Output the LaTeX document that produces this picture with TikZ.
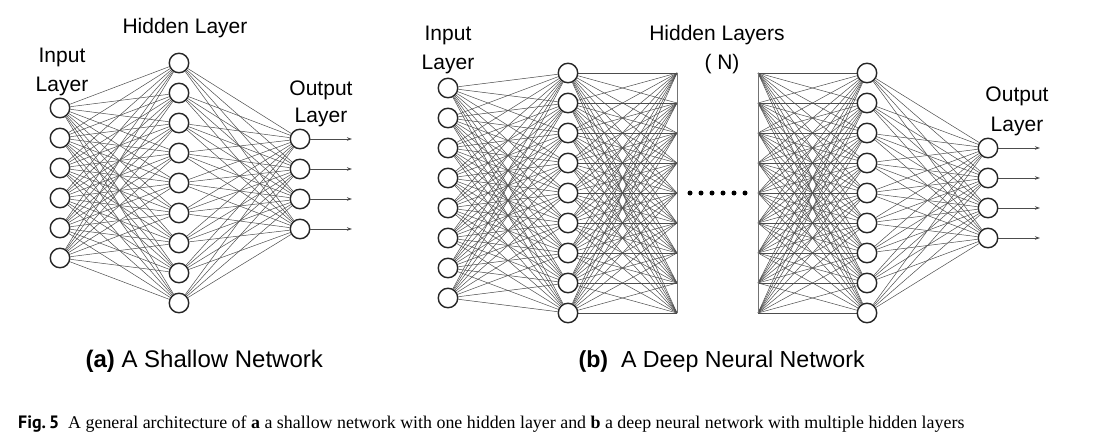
\documentclass[tikz,border=0pt]{standalone}
\usepackage{fontspec}
\setmainfont{Liberation Serif}
\setsansfont{Liberation Sans}
\newfontfamily\figlabelfont{PT Sans}
\usetikzlibrary{arrows.meta, positioning, backgrounds}

\begin{document}
\begin{tikzpicture}[x=1pt, y=-1pt,
        neuron/.style={circle, draw=black!85, line width=1.4pt, fill=white, minimum size=19.5pt, inner sep=0pt},
        link/.style={draw=black!70, line width=0.5pt},
        bar/.style={draw=black!55, line width=0.7pt},
        outarrow/.style={draw=black!70, line width=0.9pt, -{Stealth[length=5pt, width=3.5pt]}},
        layertext/.style={font=\sffamily\fontsize{21}{29}\selectfont, align=center, anchor=base},
        subcap/.style={font=\sffamily\fontsize{24}{28}\selectfont, anchor=base west},
        ellipsisdot/.style={circle, fill=black, minimum size=5pt, inner sep=0pt}
    ]
        \useasboundingbox (0,0) rectangle (1098,441);

        % Nodes (a)
        \foreach \i in {1,...,6} \node [neuron] (ain\i) at (60, 78+30*\i) {};
        \foreach \i in {1,...,9} \node [neuron] (ahid\i) at (179, 33+30*\i) {};
        \foreach \i in {1,...,4} {
            \node [neuron] (aout\i) at (300, 109+30*\i) {};
            \coordinate (aend\i) at (352, 109+30*\i);
        }

        % Nodes (b)
        \foreach \i in {1,...,8} \node [neuron] (bin\i) at (448, 58+30*\i) {};
        \foreach \i in {1,...,9} {
            \node [neuron] (bhid\i) at (568, 43+30*\i) {};
            \coordinate (bcutl\i) at (677, 43+30*\i);
            \coordinate (bcutr\i) at (758, 43+30*\i);
            \node [neuron] (bhidn\i) at (867, 43+30*\i) {};
        }
        \foreach \i in {1,...,4} {
            \node [neuron] (bout\i) at (988, 118+30*\i) {};
            \coordinate (bend\i) at (1040, 118+30*\i);
        }
        \foreach \k in {0,...,5} \node [ellipsisdot] (gap\k) at (690+11*\k, 193) {};

        % Connections
        \begin{scope}[on background layer]
            \foreach \i in {1,...,6} \foreach \j in {1,...,9} \draw [link] (ain\i) -- (ahid\j);
            \foreach \i in {1,...,9} \foreach \j in {1,...,4} \draw [link] (ahid\i) -- (aout\j);
            \foreach \i in {1,...,8} \foreach \j in {1,...,9} \draw [link] (bin\i) -- (bhid\j);
            \foreach \i in {1,...,9} \foreach \j in {1,...,9} {
                \draw [link] (bhid\i) -- (bcutl\j);
                \draw [link] (bcutr\i) -- (bhidn\j);
            }
            \foreach \i in {1,...,9} \foreach \j in {1,...,4} \draw [link] (bhidn\i) -- (bout\j);
        \end{scope}
        \draw [bar] (bcutl1) -- (bcutl9);
        \draw [bar] (bcutr1) -- (bcutr9);

        % Arrows
        \foreach \i in {1,...,4} {
            \draw [outarrow] (aout\i) -- (aend\i);
            \draw [outarrow] (bout\i) -- (bend\i);
        }

        % Labels (base anchor sits on the last line)
        \node [layertext] (ahidlabel) at (185, 34) {Hidden Layer};
        \node [layertext] (ainlabel) at (62, 92) {Input\\Layer};
        \node [layertext, font=\sffamily\fontsize{21}{27}\selectfont] (aoutlabel) at (321, 123) {Output\\Layer};
        \node [layertext] (binlabel) at (448, 70) {Input\\Layer};
        \node [layertext] (bhidlabel) at (717, 70) {Hidden Layers\\\hspace*{10pt}( N)};
        \node [layertext, font=\sffamily\fontsize{21}{30}\selectfont] (boutlabel) at (1017, 132) {Output\\Layer};

        \node [subcap] (acap) at (82, 367) {\textbf{(a)} A Shallow Network};
        \node [subcap, font=\sffamily\fontsize{23.2}{28}\selectfont] (bcap) at (575, 367) {\textbf{(b)}\ \ A Deep Neural Network};

        \node [anchor=base west, inner sep=0pt, font=\fontsize{17.9}{20}\selectfont] (figcap) at (18, 428)
            {{\figlabelfont\bfseries Fig.\,5}\hspace{9pt}A general architecture of \textbf{a} a shallow network with one hidden layer and \textbf{b} a deep neural network with multiple hidden layers};
    \end{tikzpicture}
\end{document}
